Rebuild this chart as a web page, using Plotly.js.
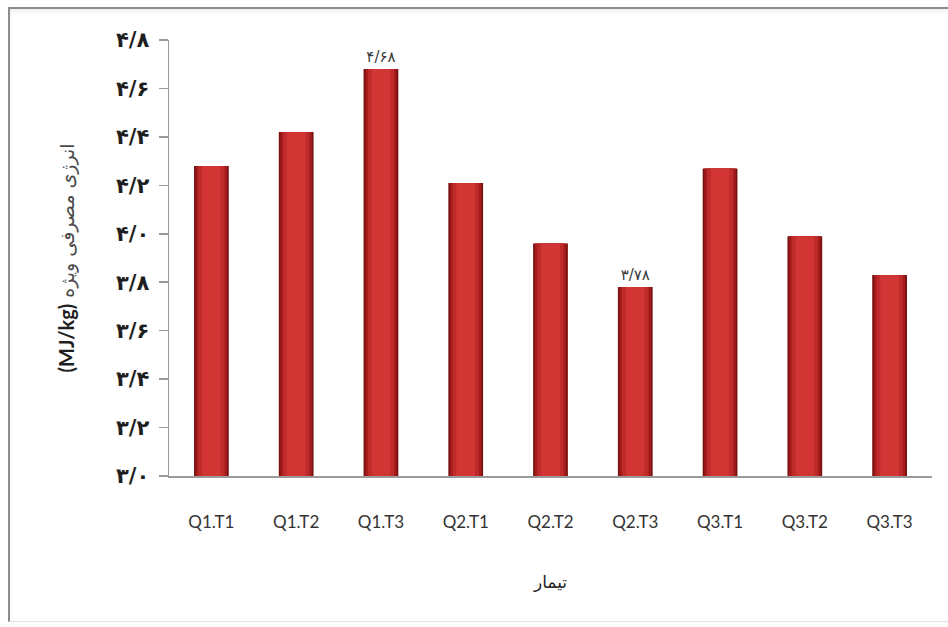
<!DOCTYPE html>
<html>
<head>
<meta charset="utf-8">
<script src="https://cdn.plot.ly/plotly-3.0.1.min.js"></script>
<style>
  html, body { margin: 0; padding: 0; background: #ffffff; }
  #frame {
    position: absolute; left: 8px; top: 7px; width: 960px; height: 612px;
    border-top: 2px solid #8c8c8c; border-left: 2px solid #8c8c8c; border-bottom: 1px solid #e2e2e2;
    box-shadow: inset 0 3px 4px rgba(0,0,0,0.06);
  }
  #chart { position: absolute; left: 0; top: 0; width: 948px; height: 627px; }
</style>
</head>
<body>
<div id="frame"></div>
<div id="chart"></div>
<script>
// Treatments (x categories) and specific energy consumption (MJ/kg)
const treatments = ['Q1.T1', 'Q1.T2', 'Q1.T3', 'Q2.T1', 'Q2.T2', 'Q2.T3', 'Q3.T1', 'Q3.T2', 'Q3.T3'];
const energy = [4.28, 4.42, 4.68, 4.21, 3.96, 3.78, 4.27, 3.99, 3.83];

// Bars that carry a value label
const labeledTreatments = ['Q1.T3', 'Q2.T3'];

// Y axis ticks
const yTickVals = [3.0, 3.2, 3.4, 3.6, 3.8, 4.0, 4.2, 4.4, 4.6, 4.8];
const yTickLabels = ['۳/۰', '۳/۲', '۳/۴', '۳/۶', '۳/۸', '۴/۰', '۴/۲', '۴/۴', '۴/۶', '۴/۸'];

const axisBase = 3.0;
const faDigits = '۰۱۲۳۴۵۶۷۸۹';
function toPersian(v, decimals) {
  return v.toFixed(decimals).replace('.', '/').replace(/[0-9]/g, d => faDigits[+d]);
}

const valueText = treatments.map((t, i) =>
  labeledTreatments.includes(t) ? toPersian(energy[i], 2) : '');

// Layered bars give the bevelled, shaded look of each column
const layers = [
  { width: 0.41, color: '#7a1111' },
  { width: 0.37, color: '#a21c1c' },
  { width: 0.31, color: '#bf2b2a' },
  { width: 0.22, color: '#d13635' }
];

const traces = layers.map((ly, k) => ({
  type: 'bar',
  x: treatments,
  y: energy.map(v => v - axisBase),
  base: axisBase,
  width: ly.width,
  marker: { color: ly.color, line: { width: 0 } },
  text: k === layers.length - 1 ? valueText : undefined,
  textposition: 'outside',
  constraintext: 'none',
  cliponaxis: false,
  textfont: { family: 'DejaVu Sans', size: 15, color: '#3a3a3a' },
  hoverinfo: 'skip',
  showlegend: false
}));

const layout = {
  width: 948,
  height: 627,
  margin: { l: 169, r: 16, t: 40, b: 151 },
  paper_bgcolor: 'rgba(0,0,0,0)',
  plot_bgcolor: 'rgba(0,0,0,0)',
  barmode: 'overlay',
  showlegend: false,
  xaxis: {
    type: 'category',
    showline: true,
    linecolor: '#9a9a9a',
    linewidth: 1.5,
    ticks: '',
    showgrid: false,
    zeroline: false,
    ticklabelstandoff: 30,
    tickfont: { family: 'Lato, Open Sans, sans-serif', size: 17, color: '#333333' },
    title: {
      text: 'تیمار',
      standoff: 45,
      font: { family: 'DejaVu Sans', size: 17, color: '#222222' }
    }
  },
  yaxis: {
    range: [3.0, 4.8],
    tickvals: yTickVals,
    ticktext: yTickLabels,
    showline: true,
    linecolor: '#9a9a9a',
    linewidth: 1.5,
    ticks: 'outside',
    ticklen: 9,
    tickcolor: '#9a9a9a',
    tickwidth: 1.5,
    showgrid: false,
    zeroline: false,
    ticklabelstandoff: 5,
    tickfont: { family: 'DejaVu Sans', size: 21, color: '#1e1e1e', weight: 'bold' },
    title: {
      text: '<b><span style="font-size:20px;font-family:Lato;color:#1e1e1e">(MJ/kg)</span></b> انرژی مصرفی ویژه',
      standoff: 36,
      font: { family: 'DejaVu Sans', size: 19, color: '#4a4a4a' }
    }
  }
};

Plotly.newPlot('chart', traces, layout, { displayModeBar: false, staticPlot: true });
</script>
</body>
</html>
